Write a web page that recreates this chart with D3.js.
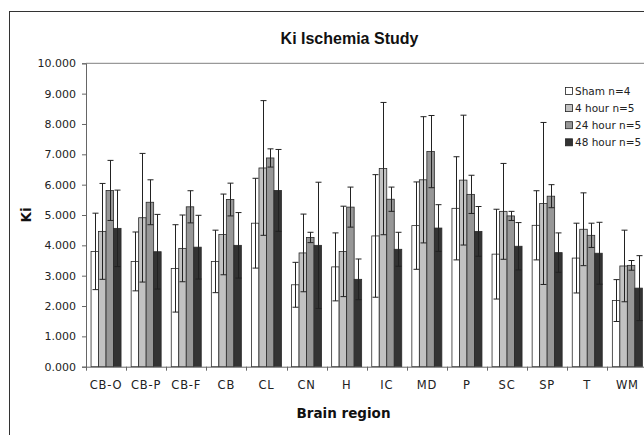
<!DOCTYPE html>
<html>
<head>
<meta charset="utf-8">
<script src="https://cdn.jsdelivr.net/npm/d3@7"></script>
<style>
  body { margin: 0; background: #fff; }
  svg { display: block; }
</style>
</head>
<body>
<div class="chart"></div>
<script>
const categories = ['CB-O', 'CB-P', 'CB-F', 'CB', 'CL', 'CN', 'H', 'IC', 'MD', 'P', 'SC', 'SP', 'T', 'WM'];
const seriesNames = ['Sham n=4', '4 hour n=5', '24 hour n=5', '48 hour n=5'];

const sham = [3.80, 3.47, 3.24, 3.47, 4.73, 2.70, 3.29, 4.31, 4.65, 5.22, 3.71, 4.66, 3.58, 2.18];
const shamErr = [1.26, 0.97, 1.44, 1.03, 1.48, 0.74, 1.12, 2.02, 1.44, 1.70, 1.48, 1.14, 1.15, 0.69];
const hour4 = [4.46, 4.91, 3.90, 4.36, 6.55, 3.75, 3.80, 6.53, 6.16, 6.15, 5.12, 5.38, 4.53, 3.32];
const hour4Err = [1.58, 2.12, 1.10, 1.33, 2.22, 1.28, 1.49, 2.18, 2.08, 2.14, 1.58, 2.67, 1.20, 1.18];
const hour24 = [5.81, 5.42, 5.27, 5.51, 6.88, 4.26, 5.26, 5.52, 7.09, 5.68, 4.97, 5.62, 4.33, 3.34];
const hour24Err = [0.99, 0.74, 0.53, 0.54, 0.30, 0.17, 0.66, 0.40, 1.19, 0.63, 0.15, 0.38, 0.40, 0.16];
const hour48 = [4.56, 3.79, 3.94, 4.00, 5.81, 4.00, 2.88, 3.87, 4.57, 4.46, 3.97, 3.76, 3.74, 2.59];
const hour48Err = [1.26, 1.23, 1.05, 1.08, 1.35, 2.08, 0.67, 0.56, 0.77, 0.82, 0.78, 0.65, 1.02, 1.07];

const yTicks = [0, 1, 2, 3, 4, 5, 6, 7, 8, 9, 10];
const colors = ['#ffffff', '#c2c2c2', '#979797', '#333333'];

const values = [sham, hour4, hour24, hour48];
const errors = [shamErr, hour4Err, hour24Err, hour48Err];

// one row per bar
const bars = [];
categories.forEach((c, i) => {
  seriesNames.forEach((s, j) => {
    bars.push({ cat: c, series: s, value: values[j][i], err: errors[j][i] });
  });
});

const width = 644;
const height = 435;
const svg = d3
  .select('.chart')
  .append('svg')
  .attr('width', width)
  .attr('height', height);

// outer chart border (runs off the right and bottom edges)
svg
  .append('rect')
  .attr('x', 9.5)
  .attr('y', 11.5)
  .attr('width', 700)
  .attr('height', 450)
  .attr('fill', 'none')
  .attr('stroke', '#333')
  .attr('stroke-width', 1);

const left = 86;
const band = 40.1;
const x = d3
  .scaleBand()
  .domain(categories)
  .range([left, left + band * categories.length]);

const xInner = d3
  .scaleBand()
  .domain(seriesNames)
  .range([0, x.bandwidth()])
  .paddingOuter(0.673);

const y = d3.scaleLinear().domain([0, 10]).range([366.7, 63.3]);

// plot area top line
svg
  .append('line')
  .attr('x1', left)
  .attr('x2', width)
  .attr('y1', y(10))
  .attr('y2', y(10))
  .attr('stroke', '#808080');

// bars
svg
  .selectAll('rect.bar')
  .data(bars)
  .enter()
  .append('rect')
  .attr('class', 'bar')
  .attr('x', (d) => x(d.cat) + xInner(d.series))
  .attr('y', (d) => y(d.value))
  .attr('width', xInner.bandwidth())
  .attr('height', (d) => y(0) - y(d.value))
  .attr('fill', (d) => colors[seriesNames.indexOf(d.series)])
  .attr('stroke', '#2a2a2a')
  .attr('stroke-width', 0.8);

// error bars
const eb = svg
  .selectAll('g.err')
  .data(bars)
  .enter()
  .append('g')
  .attr('class', 'err')
  .attr('stroke', '#222')
  .attr('stroke-width', 1);

const cx = (d) => Math.round(x(d.cat) + xInner(d.series) + xInner.bandwidth() / 2) + 0.5;

eb.append('line')
  .attr('x1', cx)
  .attr('x2', cx)
  .attr('y1', (d) => y(d.value + d.err))
  .attr('y2', (d) => y(Math.max(0, d.value - d.err)));

eb.append('line')
  .attr('x1', (d) => cx(d) - 3)
  .attr('x2', (d) => cx(d) + 3)
  .attr('y1', (d) => y(d.value + d.err))
  .attr('y2', (d) => y(d.value + d.err));

eb.append('line')
  .attr('x1', (d) => cx(d) - 3)
  .attr('x2', (d) => cx(d) + 3)
  .attr('y1', (d) => y(Math.max(0, d.value - d.err)))
  .attr('y2', (d) => y(Math.max(0, d.value - d.err)));

// y axis
const yAxis = svg
  .append('g')
  .attr('transform', 'translate(' + left + ',0)')
  .call(
    d3
      .axisLeft(y)
      .tickValues(yTicks)
      .tickFormat(d3.format('.3f'))
      .tickSize(4)
      .tickPadding(6)
  );
yAxis.select('.domain').attr('stroke', '#666');
yAxis.selectAll('.tick line').attr('stroke', '#666');
yAxis
  .selectAll('.tick text')
  .attr('font-family', 'DejaVu Sans, Verdana, sans-serif')
  .attr('font-size', 11)
  .attr('fill', '#222');

// x axis
const xAxis = svg
  .append('g')
  .attr('transform', 'translate(0,' + y(0) + ')')
  .call(d3.axisBottom(x).tickSize(0).tickPadding(14));
xAxis.select('.domain').attr('stroke', '#666');
xAxis
  .selectAll('.tick text')
  .attr('font-family', 'DejaVu Sans, Verdana, sans-serif')
  .attr('font-size', 11.5)
  .attr('letter-spacing', 0.8)
  .attr('fill', '#222');

// tick marks between categories
xAxis
  .selectAll('line.sep')
  .data(categories)
  .enter()
  .append('line')
  .attr('class', 'sep')
  .attr('x1', (d) => Math.round(x(d)) + 0.5)
  .attr('x2', (d) => Math.round(x(d)) + 0.5)
  .attr('y1', 0)
  .attr('y2', 4)
  .attr('stroke', '#666');

// titles
svg
  .append('text')
  .attr('x', 349.5)
  .attr('y', 44)
  .attr('text-anchor', 'middle')
  .attr('font-family', 'Liberation Sans, Arial, sans-serif')
  .attr('font-weight', 'bold')
  .attr('font-size', 16)
  .attr('fill', '#111')
  .text('Ki Ischemia Study');

svg
  .append('text')
  .attr('x', 343.5)
  .attr('y', 418)
  .attr('text-anchor', 'middle')
  .attr('font-family', 'DejaVu Sans, Verdana, sans-serif')
  .attr('font-weight', 'bold')
  .attr('font-size', 13.5)
  .attr('fill', '#111')
  .text('Brain region');

svg
  .append('text')
  .attr('transform', 'translate(31,' + (y(5)) + ') rotate(-90)')
  .attr('text-anchor', 'middle')
  .attr('font-family', 'DejaVu Sans, Verdana, sans-serif')
  .attr('font-weight', 'bold')
  .attr('font-size', 13.5)
  .attr('fill', '#111')
  .text('Ki');

// legend
const legend = svg
  .selectAll('g.legend')
  .data(seriesNames)
  .enter()
  .append('g')
  .attr('class', 'legend')
  .attr('transform', (d, i) => 'translate(565,' + (91 + i * 17.1) + ')');

legend
  .append('rect')
  .attr('x', 0.5)
  .attr('y', -3.5)
  .attr('width', 7)
  .attr('height', 7)
  .attr('fill', (d, i) => colors[i])
  .attr('stroke', '#222')
  .attr('stroke-width', 0.8);

legend
  .append('text')
  .attr('x', 10)
  .attr('y', 4)
  .attr('font-family', 'DejaVu Sans, Verdana, sans-serif')
  .attr('font-size', 10.5)
  .attr('fill', '#222')
  .text((d) => d);
</script>
</body>
</html>
